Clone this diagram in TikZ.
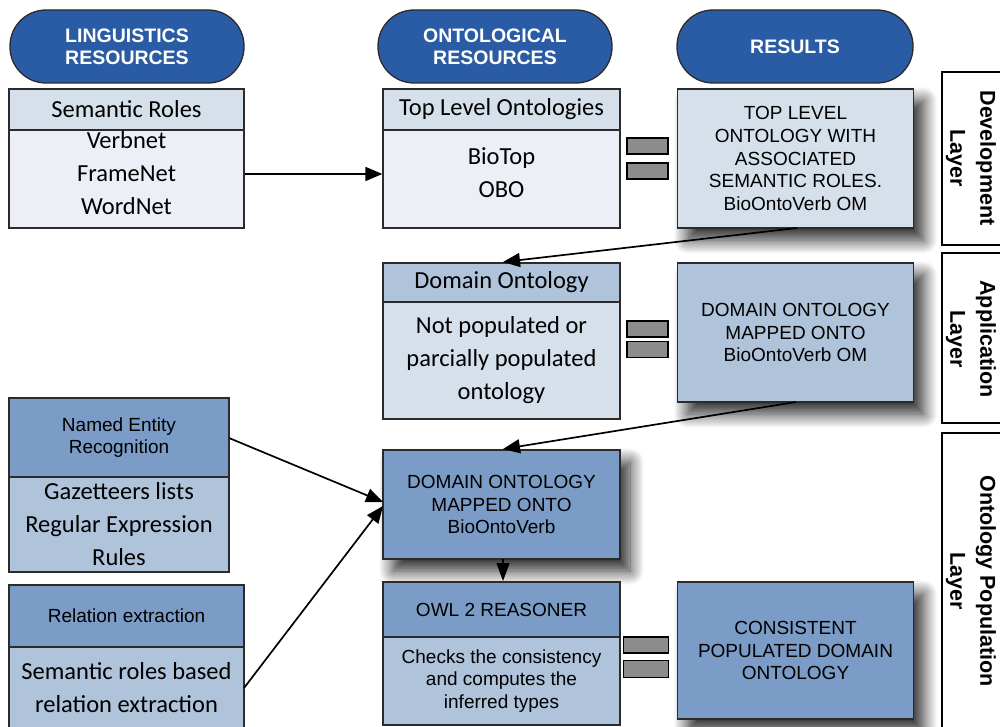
\documentclass[tikz,border=0pt]{standalone}
\usepackage{fontspec}
\setmainfont{Carlito}
\newfontfamily\arial{Liberation Sans}
\usetikzlibrary{arrows.meta,shadows.blur}

\definecolor{pillblue}{HTML}{2A5CA6}
\definecolor{paleA}{HTML}{ECF0F6}
\definecolor{paleB}{HTML}{D6E0EB}
\definecolor{midblue}{HTML}{AFC3DB}
\definecolor{deepblue}{HTML}{7A9CC6}
\definecolor{edge}{HTML}{2B2B2B}
\definecolor{bargray}{HTML}{8C8C8C}

\tikzset{
  box/.style={draw=edge, line width=1.3pt, rectangle, inner sep=0pt, align=center},
  pill/.style={box, fill=pillblue, draw=edge, rounded corners=36pt,
    minimum height=73pt, text=white,
    font=\arial\bfseries\fontsize{19.5}{22}\selectfont},
  calib/.style={align=center, font=\fontsize{24.5}{33}\selectfont},
  arialtxt/.style={align=center, font=\arial\fontsize{19}{22.8}\selectfont},
  shade/.style={blur shadow={shadow xshift=10pt, shadow yshift=-12pt,
    shadow blur radius=14pt, shadow blur steps=14, shadow opacity=85}},
  eqbar/.style={draw=black, line width=1.4pt, fill=bargray, rectangle,
    minimum width=41pt, minimum height=16pt, inner sep=0pt},
  layerbox/.style={draw=black, line width=1.2pt, fill=white, rectangle, inner sep=0pt},
  layertxt/.style={rotate=-90, align=center,
    font=\arial\bfseries\fontsize{21.5}{30}\selectfont},
  link/.style={line width=1.7pt, -{Triangle[length=17pt,width=14pt]}},
}

\begin{document}
\begin{tikzpicture}[x=1pt,y=-1pt]
\useasboundingbox (0,0) rectangle (1000,727);
\clip (0,0) rectangle (1000,727);

% column headings
\node[pill, minimum width=234pt] (hLing) at (127,46.5) {LINGUISTICS\\RESOURCES};
\node[pill, minimum width=234pt] (hOnto) at (495,46.5) {ONTOLOGICAL\\RESOURCES};
\node[pill, minimum width=236pt] (hRes)  at (795,46.5) {RESULTS};

% layer frames
\node[layerbox, minimum width=70pt, minimum height=173pt] (lDev) at (977,158.5) {};
\node[layerbox, minimum width=70pt, minimum height=170pt] (lApp) at (977,338) {};
\node[layerbox, minimum width=70pt, minimum height=300pt] (lPop) at (977,583) {};
\node[layertxt] (tDev) at (971,158) {Development\\Layer};
\node[layertxt] (tApp) at (971,339) {Application\\Layer};
\node[layertxt] (tPop) at (971,581) {Ontology Population\\Layer};

% linguistic resources
\node[box, fill=paleB, minimum width=235pt, minimum height=41pt, calib] (srH) at (126.5,109.5) {Semantic Roles};
\node[box, fill=paleA, minimum width=235pt, minimum height=98pt] (srB) at (126.5,179) {};
\node[calib] (srT) at (126.5,173) {Verbnet\\FrameNet\\WordNet};

\node[box, fill=deepblue, minimum width=220pt, minimum height=79pt, arialtxt] (nerH) at (119,437.5) {Named Entity\\Recognition};
\node[box, fill=midblue, minimum width=220pt, minimum height=95pt, calib] (nerB) at (119,524.5) {Gazetteers lists\\Regular Expression\\Rules};

\node[box, fill=deepblue, minimum width=235pt, minimum height=62pt, arialtxt] (relH) at (126.5,616) {Relation extraction};
\node[box, fill=midblue, minimum width=235pt, minimum height=100pt] (relB) at (126.5,697) {};
\node[calib] (relT) at (126.5,688) {Semantic roles based\\relation extraction};

% ontological resources
\node[box, fill=paleB, minimum width=237pt, minimum height=41pt, calib] (tlH) at (501.5,109.5) {Top Level Ontologies};
\node[box, fill=paleA, minimum width=237pt, minimum height=98pt] (tlB) at (501.5,179) {};
\node[calib] (tlT) at (501.5,173) {BioTop\\OBO};

\node[box, fill=midblue, minimum width=237pt, minimum height=39pt, calib] (doH) at (501.5,282.5) {Domain Ontology};
\node[box, fill=paleB, minimum width=237pt, minimum height=117pt, calib] (doB) at (501.5,360.5) {Not populated or\\parcially populated\\ontology};

\node[box, fill=deepblue, minimum width=237pt, minimum height=109pt, arialtxt, shade] (map) at (501.5,504.5) {DOMAIN ONTOLOGY\\MAPPED ONTO\\BioOntoVerb};

\node[box, fill=deepblue, minimum width=237pt, minimum height=55pt, arialtxt] (owlH) at (501.5,609.5) {OWL 2 REASONER};
\node[box, fill=midblue, minimum width=237pt, minimum height=88pt, arialtxt] (owlB) at (501.5,681) {Checks the consistency\\and computes the\\inferred types};

% results
\node[box, fill=paleB, minimum width=236pt, minimum height=139pt, arialtxt, shade] (rTop) at (795.5,158.5) {TOP LEVEL\\ONTOLOGY WITH\\ASSOCIATED\\SEMANTIC ROLES.\\BioOntoVerb OM};
\node[box, fill=midblue, minimum width=236pt, minimum height=139pt, arialtxt, shade] (rDom) at (795.5,332.5) {DOMAIN ONTOLOGY\\MAPPED ONTO\\BioOntoVerb OM};
\node[box, fill=deepblue, minimum width=236pt, minimum height=137pt, arialtxt, shade] (rCons) at (795.5,650.5) {CONSISTENT\\POPULATED DOMAIN\\ONTOLOGY};

% equivalence signs
\node[eqbar] (eq1a) at (647.5,146) {};
\node[eqbar] (eq1b) at (647.5,171) {};
\node[eqbar] (eq2a) at (647.5,329) {};
\node[eqbar] (eq2b) at (647.5,349.5) {};
\node[eqbar, minimum width=45pt] (eq3a) at (646,645) {};
\node[eqbar, minimum width=45pt, minimum height=17pt] (eq3b) at (646,669) {};

% connectors
\coordinate (cTopOut) at (797,228);
\coordinate (cDoIn) at (503,262);
\coordinate (cDomOut) at (796,402);
\coordinate (cMapIn) at (503,449);
\coordinate (cNerOut) at (229,438);
\coordinate (cRelOut) at (244,688);
\coordinate (cMapL1) at (383,502);
\coordinate (cMapL2) at (383,506);
\coordinate (cMapOut) at (503,559);
\coordinate (cOwlIn) at (503,581);

\draw[link] (srB.east |- 0,174) -- (tlB.west |- 0,174);
\draw[link] (cTopOut) -- (cDoIn);
\draw[link] (cDomOut) -- (cMapIn);
\draw[link] (cNerOut) -- (cMapL1);
\draw[link] (cRelOut) -- (cMapL2);
\draw[line width=1.2pt, -{Triangle[length=18pt,width=13pt]}] (cMapOut) -- (cOwlIn);
\end{tikzpicture}
\end{document}
